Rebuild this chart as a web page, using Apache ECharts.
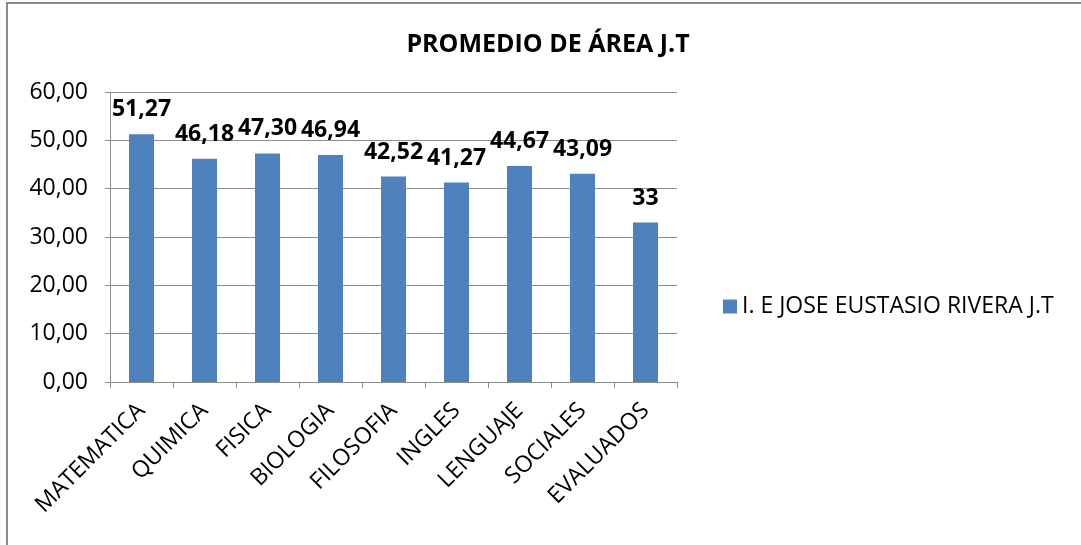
<!DOCTYPE html>
<html>
<head>
<meta charset="utf-8">
<script src="https://cdn.jsdelivr.net/npm/echarts@6/dist/echarts.min.js"></script>
<style>
  html, body { margin: 0; padding: 0; background: #fff; }
  #chart { width: 1081px; height: 545px; }
</style>
</head>
<body>
<div id="chart"></div>
<script>
const categories = ["MATEMATICA", "QUIMICA", "FISICA", "BIOLOGIA", "FILOSOFIA", "INGLES", "LENGUAJE", "SOCIALES", "EVALUADOS"];
const values = [51.27, 46.18, 47.30, 46.94, 42.52, 41.27, 44.67, 43.09, 33];
const seriesName = "I. E JOSE EUSTASIO RIVERA J.T";

const fontFamily = "'Open Sans', 'Noto Sans', sans-serif";
const comma = (v) => (Number.isInteger(v) ? String(v) : v.toFixed(2).replace(".", ","));

const chart = echarts.init(document.getElementById("chart"));

chart.setOption({
  animation: false,
  textStyle: { fontFamily: fontFamily },
  graphic: [
    {
      type: "rect",
      shape: { x: 7, y: 3, width: 1090, height: 560 },
      style: { fill: "none", stroke: "#8c8c8c", lineWidth: 2 },
      silent: true,
    },
  ],
  title: {
    text: "PROMEDIO DE ÁREA J.T",
    left: 543,
    top: 27,
    textAlign: "center",
    textStyle: { fontSize: 25, fontWeight: "bold", color: "#000", fontFamily: fontFamily },
  },
  legend: {
    left: 718,
    top: 290,
    itemWidth: 14,
    itemHeight: 14,
    icon: "rect",
    textStyle: { fontSize: 23, color: "#000", fontFamily: fontFamily },
    data: [seriesName],
  },
  grid: { left: 110, right: 404, top: 92, bottom: 163, containLabel: false },
  xAxis: {
    type: "category",
    data: categories,
    axisLine: { lineStyle: { color: "#8c8c8c", width: 1 } },
    axisTick: { show: true, length: 6, alignWithLabel: false, lineStyle: { color: "#8c8c8c" } },
    axisLabel: { rotate: 45, fontSize: 23, color: "#000", margin: 25, interval: 0 },
  },
  yAxis: {
    type: "value",
    min: 0,
    max: 60,
    interval: 10,
    axisLine: { show: true, lineStyle: { color: "#8c8c8c", width: 1 } },
    axisTick: { show: true, length: 5, lineStyle: { color: "#8c8c8c" } },
    axisLabel: { fontSize: 23, color: "#000", margin: 22, formatter: (v) => v.toFixed(2).replace(".", ",") },
    splitLine: { lineStyle: { color: "#8c8c8c", width: 1 } },
  },
  series: [
    {
      name: seriesName,
      type: "bar",
      data: values,
      barWidth: 25,
      itemStyle: { color: "#4f81bd" },
      label: {
        show: true,
        position: "top",
        distance: 13,
        fontSize: 23,
        fontWeight: "bold",
        color: "#000",
        formatter: (p) => comma(p.value),
      },
    },
  ],
});
</script>
</body>
</html>
